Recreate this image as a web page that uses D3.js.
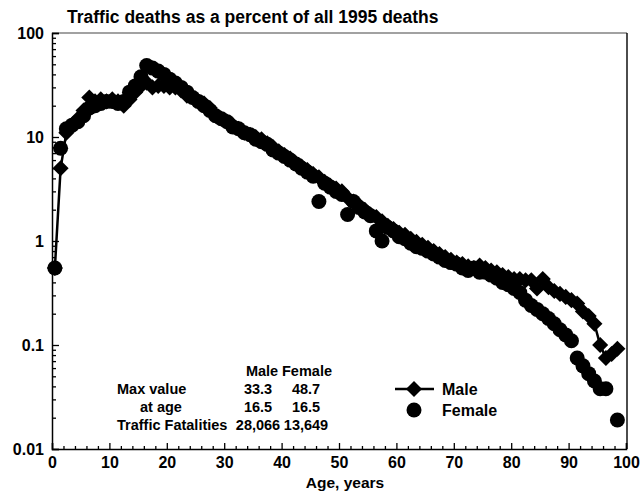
<!DOCTYPE html>
<html>
<head>
<meta charset="utf-8">
<script src="https://cdn.jsdelivr.net/npm/d3@7/dist/d3.min.js"></script>
<style>
  html, body { margin: 0; padding: 0; background: #fff; }
  text { font-family: "Liberation Sans", Arial, Helvetica, sans-serif; font-weight: bold; fill: #000; }
</style>
</head>
<body>
<svg id="chart" width="642" height="493"></svg>
<script>
// ---- data ----
const titleText = "Traffic deaths as a percent of all 1995 deaths";
const xLabel = "Age, years";
const ages = [0.5,1.5,2.5,3.5,4.5,5.5,6.5,7.5,8.5,9.5,10.5,11.5,12.5,13.5,14.5,15.5,16.5,17.5,18.5,19.5,
  20.5,21.5,22.5,23.5,24.5,25.5,26.5,27.5,28.5,29.5,30.5,31.5,32.5,33.5,34.5,35.5,36.5,37.5,38.5,39.5,
  40.5,41.5,42.5,43.5,44.5,45.5,46.5,47.5,48.5,49.5,50.5,51.5,52.5,53.5,54.5,55.5,56.5,57.5,58.5,59.5,
  60.5,61.5,62.5,63.5,64.5,65.5,66.5,67.5,68.5,69.5,70.5,71.5,72.5,73.5,74.5,75.5,76.5,77.5,78.5,79.5,
  80.5,81.5,82.5,83.5,84.5,85.5,86.5,87.5,88.5,89.5,90.5,91.5,92.5,93.5,94.5,95.5,96.5,97.5,98.5];
const maleValues = [0.55,5.0,11,13,15,18,24,22,23,22,23,22,20,23,27,31,33.3,30,31,31,
  30,30,28,25,24,22,21,19,16,15,14,13,12,11,10.5,10,9.5,8.7,8,7.3,
  6.7,6.2,5.6,5.2,4.8,4.4,4.1,3.7,3.4,3.2,3.0,2.6,2.4,2.2,2.0,1.8,1.7,1.55,1.4,1.3,
  1.2,1.15,1.05,0.98,0.92,0.86,0.8,0.75,0.7,0.66,0.62,0.6,0.57,0.55,0.58,0.55,0.52,0.5,0.47,0.45,
  0.43,0.43,0.42,0.42,0.35,0.43,0.36,0.33,0.31,0.29,0.27,0.25,0.21,0.19,0.16,0.10,0.075,0.082,0.092];
const femaleAges = [0.5,1.5,2.5,3.5,4.5,5.5,6.5,7.5,8.5,9.5,10.5,11.5,12.5,13.5,14.5,15.5,16.5,17.5,18.5,19.5,
  20.5,21.5,22.5,23.5,24.5,25.5,26.5,27.5,28.5,29.5,30.5,31.5,32.5,33.5,34.5,35.5,36.5,37.5,38.5,39.5,
  40.5,41.5,42.5,43.5,44.5,45.5,46.5,47.5,48.5,49.5,50.5,51.5,52.5,53.5,54.5,55.5,56.5,57.5,58.5,59.5,
  60.5,61.5,62.5,63.5,64.5,65.5,66.5,67.5,68.5,69.5,70.5,71.5,72.5,73.5,74.5,75.5,76.5,77.5,78.5,79.5,
  80.5,81.5,82.5,83.5,84.5,85.5,86.5,87.5,88.5,89.5,90.5,91.5,92.5,93.5,94.5,95.5,96.5,98.5];
const femaleValues = [0.55,7.8,12,13,14,16,19,20,21,22,22,21,22,27,31,38,48.7,46,43,40,
  36,33,30,27,24,22,20,18,16,15,14,12.5,12,11,10.5,9.5,9,8.5,7.5,7,
  6.5,6,5.5,5,4.6,4.2,2.4,3.6,3.3,3.0,2.8,1.8,2.4,2.1,1.9,1.75,1.25,1.0,1.35,1.25,
  1.1,1.05,0.95,0.88,0.85,0.8,0.75,0.7,0.65,0.62,0.6,0.55,0.52,0.55,0.5,0.5,0.47,0.44,0.4,0.38,
  0.35,0.32,0.27,0.24,0.22,0.2,0.18,0.16,0.14,0.125,0.11,0.075,0.063,0.053,0.045,0.038,0.038,0.019];
const xMajorTicks = [0,10,20,30,40,50,60,70,80,90,100];
const xMinorTicks = [2,4,6,8,12,14,16,18,22,24,26,28,32,34,36,38,42,44,46,48,52,54,56,58,62,64,66,68,72,74,76,78,82,84,86,88,92,94,96,98];
const yMajorTicks = [0.01,0.1,1,10,100];
const yTickLabels = ["0.01","0.1","1","10","100"];
const yMinorTicks = [0.02,0.03,0.04,0.05,0.06,0.07,0.08,0.09,0.2,0.3,0.4,0.5,0.6,0.7,0.8,0.9,2,3,4,5,6,7,8,9,20,30,40,50,60,70,80,90];
const tableHeader = ["Male", "Female"];
const tableRowLabels = ["Max value", "at age", "Traffic Fatalities"];
const tableMale = ["33.3", "16.5", "28,066"];
const tableFemale = ["48.7", "16.5", "13,649"];
const legendLabels = ["Male", "Female"];

// ---- layout ----
const svg = d3.select("#chart");
const L = 52, R = 626, T = 33, B = 449;
const x = d3.scaleLinear().domain([0, 100]).range([L, R]);
const y = d3.scaleLog().domain([0.01, 100]).range([B, T]);

// title
svg.append("text").attr("x", 67).attr("y", 23).attr("font-size", 17.5).text(titleText);

// frame top/right
svg.append("line").attr("x1", L).attr("x2", R + 1).attr("y1", T).attr("y2", T)
  .attr("stroke", "#444").attr("stroke-width", 1.2);
svg.append("line").attr("x1", R + 1).attr("x2", R + 1).attr("y1", T).attr("y2", B)
  .attr("stroke", "#000").attr("stroke-width", 1.4);

// x axis
const gx = svg.append("g").attr("transform", `translate(0,${B})`);
gx.call(d3.axisBottom(x).tickValues(xMajorTicks).tickSize(-6).tickPadding(8).tickFormat(d3.format("d")));
const gxm = svg.append("g").attr("transform", `translate(0,${B})`);
gxm.call(d3.axisBottom(x).tickValues(xMinorTicks).tickSize(-3).tickFormat(""));
gxm.select(".domain").remove();

// y axis
const gy = svg.append("g").attr("transform", `translate(${L},0)`);
gy.call(d3.axisLeft(y).tickValues(yMajorTicks).tickSize(-7).tickPadding(8)
  .tickFormat((d, i) => yTickLabels[i]));
const gym = svg.append("g").attr("transform", `translate(${L},0)`);
gym.call(d3.axisLeft(y).tickValues(yMinorTicks).tickSize(-4).tickFormat(""));
gym.select(".domain").remove();

svg.selectAll(".domain").attr("stroke", "#000").attr("stroke-width", 1.5);
svg.selectAll(".tick line").attr("stroke", "#000").attr("stroke-width", 1.3);
svg.selectAll(".tick text").attr("font-size", 16).attr("font-family", "Liberation Sans, Arial, sans-serif")
  .attr("font-weight", "bold").attr("fill", "#000");

// x label
svg.append("text").attr("x", 345).attr("y", 488).attr("text-anchor", "middle")
  .attr("font-size", 15.5).text(xLabel);

// data
const maleData = ages.map((a, i) => ({ a, v: maleValues[i] }));
const femaleData = femaleAges.map((a, i) => ({ a, v: femaleValues[i] }));

const diamond = d3.symbol().type(d3.symbolDiamond2).size(165);

svg.append("g").selectAll("circle").data(femaleData).join("circle")
  .attr("cx", d => x(d.a)).attr("cy", d => y(d.v)).attr("r", 7.5).attr("fill", "#000");

svg.append("path").datum(maleData)
  .attr("d", d3.line().x(d => x(d.a)).y(d => y(d.v)))
  .attr("fill", "none").attr("stroke", "#000").attr("stroke-width", 2.5);

svg.append("g").selectAll("path").data(maleData).join("path")
  .attr("transform", d => `translate(${x(d.a)},${y(d.v)})`)
  .attr("d", diamond).attr("fill", "#000");

// table
const tbl = svg.append("g");
tbl.append("text").attr("x", 262).attr("y", 376).attr("text-anchor", "middle").attr("font-size", 14.5).text(tableHeader[0]);
tbl.append("text").attr("x", 307).attr("y", 376).attr("text-anchor", "middle").attr("font-size", 14.5).text(tableHeader[1]);
const rowY = [394, 412, 430];
const rowLabelX = [117, 140, 117];
tableRowLabels.forEach((lab, i) => {
  tbl.append("text").attr("x", rowLabelX[i]).attr("y", rowY[i]).attr("font-size", 14.5).text(lab);
  tbl.append("text").attr("x", 258).attr("y", rowY[i]).attr("text-anchor", "middle").attr("font-size", 14.5).text(tableMale[i]);
  tbl.append("text").attr("x", 306).attr("y", rowY[i]).attr("text-anchor", "middle").attr("font-size", 14.5).text(tableFemale[i]);
});

// legend
const lg = svg.append("g");
lg.append("line").attr("x1", 395).attr("x2", 434).attr("y1", 389).attr("y2", 389)
  .attr("stroke", "#000").attr("stroke-width", 2.5);
lg.append("path").attr("transform", "translate(414,389)").attr("d", diamond).attr("fill", "#000");
lg.append("text").attr("x", 442).attr("y", 395).attr("font-size", 16).text(legendLabels[0]);
lg.append("circle").attr("cx", 414).attr("cy", 410).attr("r", 7.5).attr("fill", "#000");
lg.append("text").attr("x", 442).attr("y", 416).attr("font-size", 16).text(legendLabels[1]);
</script>
</body>
</html>
